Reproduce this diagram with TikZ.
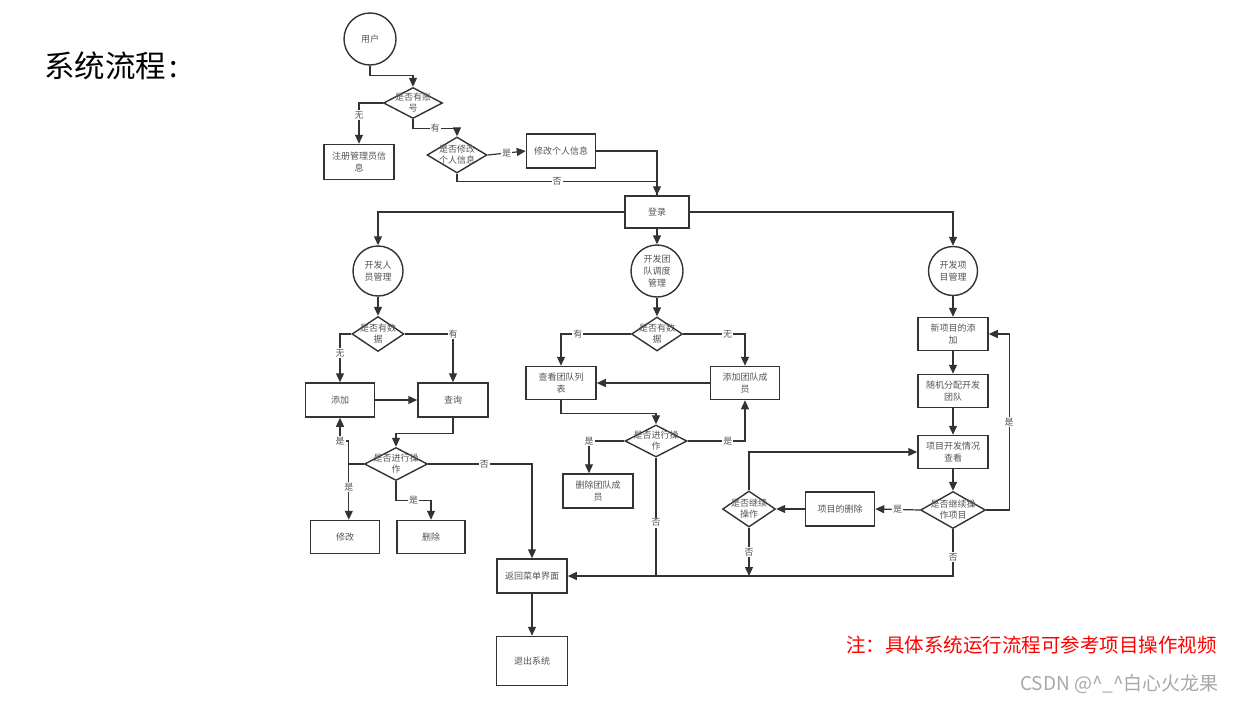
\documentclass[tikz,border=0pt]{standalone}
\usepackage{fontspec}
\setmainfont{Noto Sans CJK SC}
\usetikzlibrary{arrows.meta,shapes.geometric}
\definecolor{lc}{HTML}{333333}
\definecolor{tc}{HTML}{555555}
\definecolor{notered}{HTML}{FF0000}
\definecolor{wm}{HTML}{A8A8A8}
\begin{document}
\begin{tikzpicture}[x=1pt,y=-1pt,
 box/.style={draw=lc, line width=1.5pt, fill=white, align=center, text=tc, font=\fontsize{9}{12}\selectfont, inner sep=0pt},
 circ/.style={circle, draw=lc, line width=1.4pt, fill=white, align=center, text=tc, font=\fontsize{9}{12}\selectfont, inner sep=0pt, minimum size=#1},
 dia/.style={diamond, draw=lc, line width=1.4pt, fill=white, inner sep=0pt},
 dtext/.style={align=center, font=\fontsize{9}{11}\selectfont, text=tc},
 arr/.style={draw=lc, line width=1.2pt, -{Triangle[length=9pt,width=8pt]}},
 ln/.style={draw=lc, line width=1.2pt},
 lbl/.style={fill=white, inner sep=1pt, font=\fontsize{9}{10}\selectfont, text=tc},
]
\path[use as bounding box, fill=white] (0,0) rectangle (1234,704);

% title and notes
\node[anchor=west, font=\fontsize{30.5}{32}\selectfont, text=black, inner sep=0pt] (title) at (44,66) {系统流程\hspace{3pt}:};
\node[anchor=east, font=\fontsize{19.5}{21}\selectfont, text=notered, inner sep=0pt] (note) at (1217,645) {注：具体系统运行流程可参考项目操作视频};
\node[anchor=east, font=\fontsize{19}{20}\selectfont, text=wm, inner sep=0pt] (wmk) at (1219,684) {CSDN @\^{}\_\^{}白心火龙果};

% top part
\node[circ=52pt] (user) at (370,39) {用户};
\node[dia, minimum width=59pt, minimum height=31pt, label={[dtext]center:{是否有账\\号}}] (d1) at (413,103) {};
\node[box, minimum width=70pt, minimum height=35pt] (reg) at (359,162) {注册管理员信\\息};
\node[dia, minimum width=60pt, minimum height=36pt, label={[dtext]center:{是否修改\\个人信息}}] (d2) at (457,155) {};
\node[box, minimum width=69pt, minimum height=34pt] (mod) at (561,151) {修改个人信息};
\node[box, minimum width=64pt, minimum height=32pt] (login) at (657,212) {登录};

% three circles
\node[circ=50pt] (c1) at (378,271) {开发人\\员管理};
\node[circ=52pt] (c2) at (657,271) {开发团\\队调度\\管理};
\node[circ=49pt] (c3) at (953,271) {开发项\\目管理};

% left column
\node[dia, minimum width=52pt, minimum height=35pt, label={[dtext]center:{是否有数\\据}}] (d3) at (378,334) {};
\node[box, minimum width=69pt, minimum height=34pt] (a1) at (340,400) {添加};
\node[box, minimum width=70pt, minimum height=34pt] (q1) at (453,400) {查询};
\node[dia, minimum width=63pt, minimum height=33pt, label={[dtext]center:{是否进行操\\作}}] (d4) at (396,464) {};
\node[box, minimum width=69pt, minimum height=33pt] (m1) at (345,537) {修改};
\node[box, minimum width=68pt, minimum height=33pt] (del1) at (431,537) {删除};

% middle column
\node[dia, minimum width=51pt, minimum height=34pt, label={[dtext]center:{是否有数\\据}}] (d5) at (657,334) {};
\node[box, minimum width=70pt, minimum height=33pt] (view) at (561,383) {查看团队列\\表};
\node[box, minimum width=69pt, minimum height=33pt] (addm) at (745,383) {添加团队成\\员};
\node[dia, minimum width=62pt, minimum height=32pt, label={[dtext]center:{是否进行操\\作}}] (d6) at (656,441) {};
\node[box, minimum width=70pt, minimum height=34pt] (delm) at (598,491) {删除团队成\\员};

% right column
\node[box, minimum width=70pt, minimum height=33pt] (np) at (953,334) {新项目的添\\加};
\node[box, minimum width=70pt, minimum height=33pt] (rnd) at (953,391) {随机分配开发\\团队};
\node[box, minimum width=70pt, minimum height=33pt] (look) at (953,452) {项目开发情况\\查看};
\node[dia, minimum width=65pt, minimum height=37pt, label={[dtext]center:{是否继续操\\作项目}}] (d7) at (953,510) {};
\node[box, minimum width=69pt, minimum height=34pt] (pdel) at (840,509) {项目的删除};
\node[dia, minimum width=53pt, minimum height=36pt, label={[dtext]center:{是否继续\\操作}}] (d8) at (749,509) {};

% bottom
\node[box, minimum width=70pt, minimum height=34pt] (ret) at (532,576) {返回菜单界面};
\node[box, minimum width=71pt, minimum height=49pt] (exit) at (532,661) {退出系统};

% ---- connectors: top
\draw[arr] (user.south) -- ++(0,10) -| (d1.north);
\draw[arr] (d1.west) -| node[lbl,pos=0.65]{无} (reg.north);
\draw[arr] (d1.south) -- ++(0,9) -| node[lbl,pos=0.25]{有} (d2.north);
\draw[arr] (d2.east) -- node[lbl]{是} (mod.west);
\draw[arr] (mod.east) -| (login.north);
\draw[ln] (d2.south) -- ++(0,8) -| node[lbl,pos=0.25]{否} (login.north);
\draw[arr] (login.west) -| (c1.north);
\draw[arr] (login.east) -| (c3.north);
\draw[arr] (login.south) -- (c2.north);

% left column
\draw[arr] (c1.south) -- (d3.north);
\draw[arr] (d3.west) -| node[lbl,pos=0.7]{无} (a1.north);
\draw[arr] (d3.east) -| node[lbl,pos=0.5]{有} (q1.north);
\draw[arr] (a1.east) -- (q1.west);
\draw[arr] (q1.south) -- ++(0,16) -| (d4.north);
\draw[ln] (d4.west) -- ++(-15,0) coordinate (k);
\draw[arr] (k) -- ++(0,-23) -| node[lbl,pos=0.5]{是} (a1.south);
\draw[arr] (k) -- node[lbl,pos=0.42]{是} (k |- m1.north);
\draw[arr] (d4.south) -- ++(0,19) -| node[lbl,pos=0.25]{是} (del1.north);
\draw[arr] (d4.east) -| node[lbl,pos=0.27]{否} (ret.north);

% middle column
\draw[arr] (c2.south) -- (d5.north);
\draw[arr] (d5.west) -| node[lbl,pos=0.38]{有} (view.north);
\draw[arr] (d5.east) -| node[lbl,pos=0.36]{无} (addm.north);
\draw[arr] (addm.west) -- (view.east);
\draw[arr] (view.south) -- ++(0,13) -| (d6.north);
\draw[arr] (d6.west) -| node[lbl,pos=0.5]{是} ([xshift=-9pt]delm.north);
\draw[arr] (d6.east) -| node[lbl,pos=0.35]{是} (addm.south);
\draw[ln] (d6.south) -- node[lbl,pos=0.55]{否} (d6.south |- ret.east);

% right column
\draw[arr] (c3.south) -- (np.north);
\draw[arr] (np.south) -- (rnd.north);
\draw[arr] (rnd.south) -- (look.north);
\draw[arr] (look.south) -- (d7.north);
\draw[arr] (d7.east) -- ++(23,0) |- node[lbl,pos=0.25]{是} (np.east);
\draw[arr] (d7.west) -- node[lbl]{是} (pdel.east);
\draw[arr] (pdel.west) -- (d8.east);
\draw[arr] (d8.north) |- (look.west);
\draw[arr] (d8.south) -- node[lbl,pos=0.5]{否} (d8.south |- ret.east);
\draw[arr] (d7.south) |- node[lbl,pos=0.3]{否} (ret.east);

% bottom
\draw[arr] (ret.south) -- (exit.north);
\end{tikzpicture}
\end{document}
